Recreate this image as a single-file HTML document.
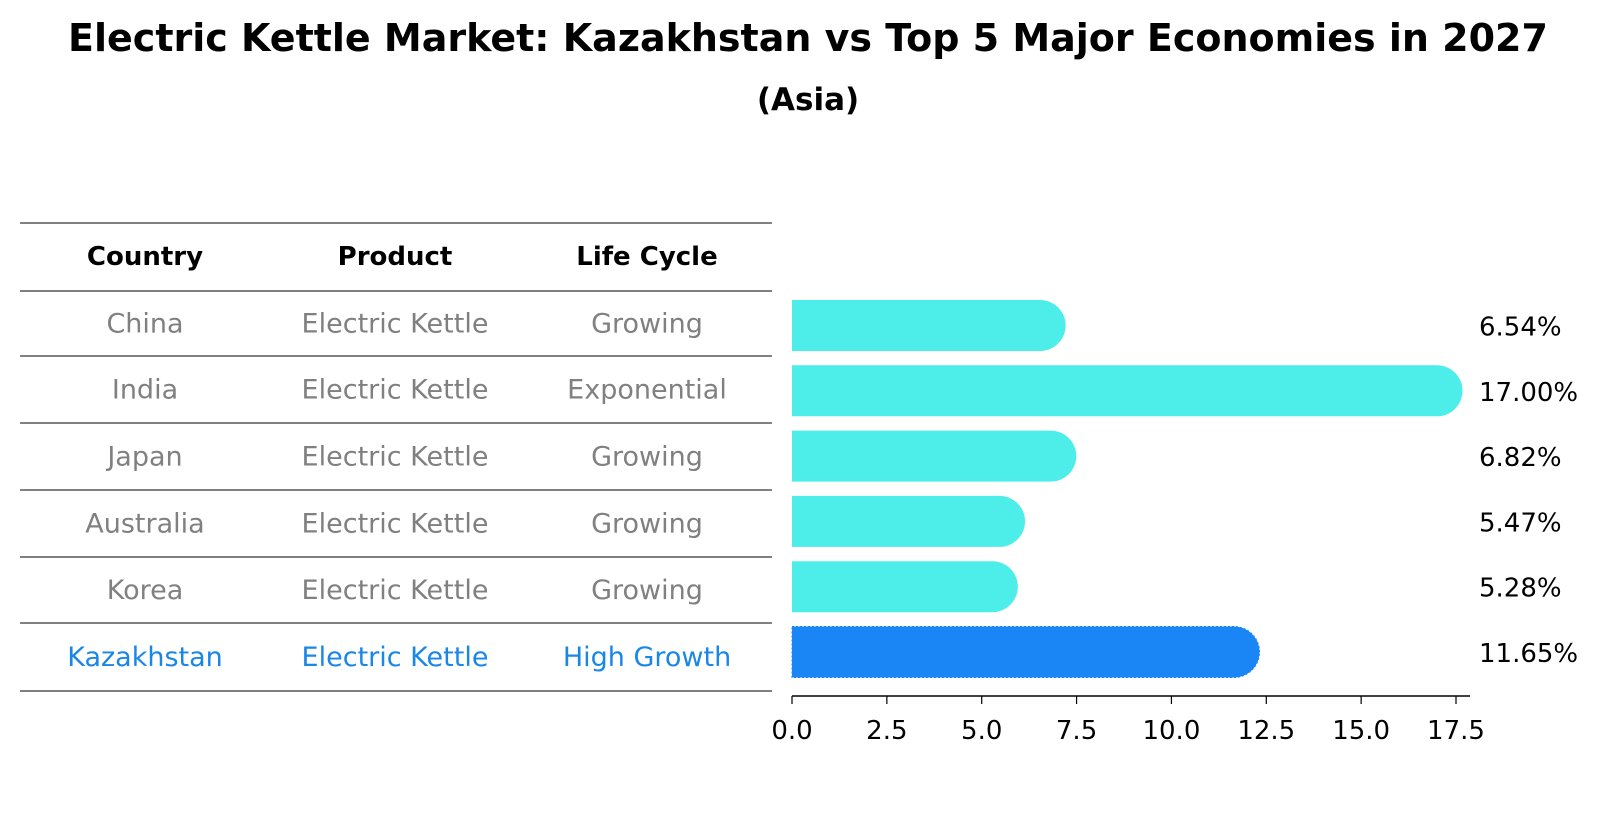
<!DOCTYPE html>
<html><head><meta charset="utf-8"><style>
body{margin:0;background:#fff;width:1604px;height:823px;overflow:hidden;font-family:"DejaVu Sans","Liberation Sans",sans-serif}
</style></head><body>
<svg width="1604" height="823" id="svg" xmlns="http://www.w3.org/2000/svg" font-family="DejaVu Sans, Liberation Sans, sans-serif">
<text x="808" y="51" text-anchor="middle" font-size="38" font-weight="bold">Electric Kettle Market: Kazakhstan vs Top 5 Major Economies in 2027</text>
<text x="808" y="110" text-anchor="middle" font-size="31" font-weight="bold">(Asia)</text>
<g id="table"></g>
<g id="bars"></g>
</svg>
<script>
const countries=["China","India","Japan","Australia","Korea","Kazakhstan"];
const products=["Electric Kettle","Electric Kettle","Electric Kettle","Electric Kettle","Electric Kettle","Electric Kettle"];
const lifecycles=["Growing","Exponential","Growing","Growing","Growing","High Growth"];
const values=[6.54,17.00,6.82,5.47,5.28,11.65];
const ticks=[0,2.5,5,7.5,10,12.5,15,17.5];
const NS="http://www.w3.org/2000/svg";
const tg=document.getElementById('table'), bg=document.getElementById('bars');
function mk(tag,attrs,parent,text){const e=document.createElementNS(NS,tag);for(const k in attrs)e.setAttribute(k,attrs[k]);if(text!==undefined)e.textContent=text;parent.appendChild(e);return e;}
const lineYs=[223,291,356,423,490,557,623,691];
const colX=[145,395,647];
lineYs.forEach((y,i)=>{const l=mk('line',{x1:20,x2:772,y1:y,y2:y,stroke:'#000','stroke-width':1},tg);

});
["Country","Product","Life Cycle"].forEach((h,j)=>{const t=mk('text',{x:colX[j],y:265,'text-anchor':'middle','font-size':26,'font-weight':'bold'},tg,h);

});
countries.forEach((c,i)=>{const y=(lineYs[i+1]+lineYs[i+2])/2+9;const col=c==="Kazakhstan"?'#1a86e8':'#808080';
[c,products[i],lifecycles[i]].forEach((v,j)=>{const t=mk('text',{x:colX[j],y:y,'text-anchor':'middle','font-size':27,fill:col},tg,v);

});});
const x0=792, pxPer=(1456-792)/17.5;
const xs=v=>x0+v*pxPer;
const c0=325.5, c5=652, bh=51;
const yc=i=>c0+i*(c5-c0)/5;
values.forEach((v,i)=>{const c=yc(i);const kz=countries[i]==="Kazakhstan";
const p=mk('path',{d:`M${x0},${c-bh/2} H${xs(v)} A${bh/2},${bh/2} 0 0 1 ${xs(v)},${c+bh/2} H${x0} Z`,fill:kz?'#1a86f5':'#4deeea'},bg);
if(kz){p.setAttribute('stroke','#1a86f5');p.setAttribute('stroke-dasharray','2,2');}


const t=mk('text',{x:1479,y:c+10,'font-size':26},bg,v.toFixed(2)+'%');

});
const ax=mk('line',{x1:x0,x2:1470,y1:696,y2:696,stroke:'#000','stroke-width':1.5},bg);


ticks.forEach(t=>{const l=mk('line',{x1:xs(t),x2:xs(t),y1:696,y2:704,stroke:'#000','stroke-width':1.2},bg);


const tx=mk('text',{x:xs(t),y:739,'text-anchor':'middle','font-size':26},bg,t.toFixed(1));

});
</script>
</body></html>
